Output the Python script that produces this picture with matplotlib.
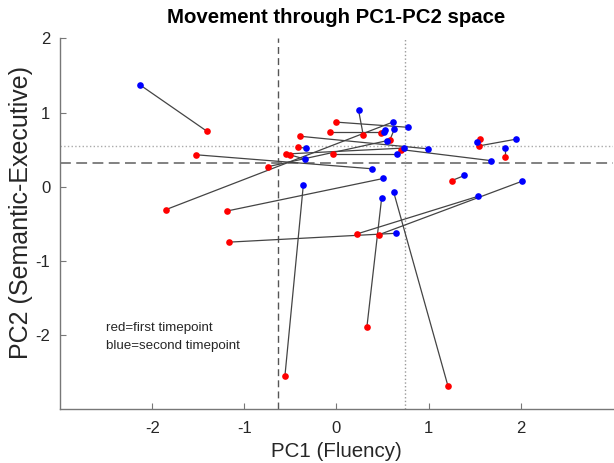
import matplotlib
matplotlib.use('Agg')
import matplotlib.pyplot as plt

# first timepoint (red)
pc1_first = [-1.41, -1.53, -1.85, -1.19, -1.17, -0.74, -0.56, -0.55, -0.51, -0.42,
             -0.40, -0.07, 0.00, -0.04, 0.29, 0.48, 0.58, 0.70, 0.22, 0.46,
             0.33, 1.21, 1.25, 1.56, 1.55, 1.83]
pc2_first = [0.75, 0.43, -0.31, -0.33, -0.75, 0.27, -2.56, 0.44, 0.43, 0.53,
             0.68, 0.74, 0.87, 0.44, 0.70, 0.73, 0.63, 0.50, -0.64, -0.65,
             -1.90, -2.69, 0.08, 0.64, 0.55, 0.40]

# second timepoint (blue)
pc1_second = [-2.13, 0.39, 0.61, 0.51, 0.65, 0.55, -0.36, 0.73, -0.34, -0.33,
              0.99, 0.52, 0.78, 0.66, 0.24, 0.53, 0.63, 1.68, 1.54, 2.01,
              0.49, 0.62, 1.39, 1.53, 1.95, 1.83]
pc2_second = [1.37, 0.24, 0.87, 0.11, -0.63, 0.62, 0.02, 0.52, 0.37, 0.52,
              0.51, 0.74, 0.80, 0.44, 1.03, 0.77, 0.78, 0.35, -0.13, 0.07,
              -0.16, -0.07, 0.15, 0.60, 0.64, 0.52]

# reference lines
first_mean = (-0.636, 0.316)
second_mean = (0.741, 0.55)

plt.rcParams['font.family'] = ['Liberation Sans', 'DejaVu Sans']
plt.rcParams['axes.unicode_minus'] = False

fig = plt.figure(figsize=(6.14, 4.63), dpi=100)
ax = fig.add_axes([0.098, 0.117, 0.9, 0.8])

# connecting lines
for x1, y1, x2, y2 in zip(pc1_first, pc2_first, pc1_second, pc2_second):
    ax.plot([x1, x2], [y1, y2], color='#444444', lw=0.9, zorder=2)

ax.axvline(first_mean[0], color='#555555', ls=(0, (5, 3)), lw=1, zorder=1)
ax.axhline(first_mean[1], color='#777777', ls=(0, (6, 3)), lw=1.3, zorder=1)
ax.axvline(second_mean[0], color='#999999', ls=':', lw=1, zorder=1)
ax.axhline(second_mean[1], color='#aaaaaa', ls=':', lw=1, zorder=1)

ax.plot(pc1_first, pc2_first, 'o', color='red', ms=4.8, mec='none', zorder=3)
ax.plot(pc1_second, pc2_second, 'o', color='blue', ms=4.8, mec='none', zorder=4)

ax.text(-2.5, -1.83, 'red=first timepoint\nblue=second timepoint',
        fontsize=9.6, color='#262626', va='top', linespacing=1.65)

ax.set_xlim(-3, 3)
ax.set_ylim(-3, 2)
ax.set_xticks([-2, -1, 0, 1, 2])
ax.set_yticks([-2, -1, 0, 1, 2])
ax.tick_params(direction='in', length=4, labelsize=12, labelcolor='#262626',
               color='#777777', width=0.8, pad=7)
ax.tick_params(axis='x', pad=9)

for side in ['top', 'right']:
    ax.spines[side].set_visible(False)
for side in ['left', 'bottom']:
    ax.spines[side].set_color('#777777')
    ax.spines[side].set_linewidth(1)

ax.set_xlabel('PC1 (Fluency)', fontsize=14.8, color='#262626', labelpad=4)
ax.set_ylabel('PC2 (Semantic-Executive)', fontsize=18, color='#262626')
ax.yaxis.set_label_coords(-0.05, 0.53)
ax.set_title('Movement through PC1-PC2 space', fontsize=14.7, fontweight='bold', pad=11)

fig.savefig('out.png', dpi=100)
